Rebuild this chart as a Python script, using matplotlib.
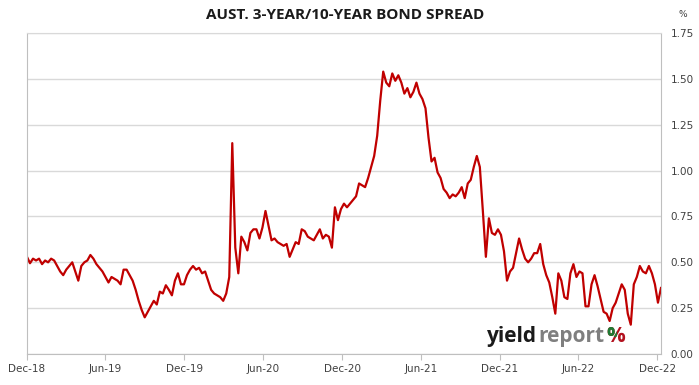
import matplotlib
matplotlib.use('Agg')
import matplotlib.pyplot as plt
import matplotlib.dates as mdates
from matplotlib.patches import Rectangle
import numpy as np
import pandas as pd

# weekly spread readings (%), first week of Dec 2018 to early Dec 2022
start_date = '2018-12-01'
spread = [
    0.53, 0.495, 0.52, 0.51, 0.52, 0.49, 0.51, 0.50, 0.52, 0.51,
    0.48, 0.45, 0.43, 0.46, 0.48, 0.50, 0.45, 0.40, 0.48, 0.50,
    0.51, 0.54, 0.52, 0.49, 0.47, 0.45, 0.42, 0.39, 0.42, 0.41,
    0.40, 0.38, 0.46, 0.46, 0.43, 0.40, 0.35, 0.29, 0.24, 0.20,
    0.23, 0.26, 0.29, 0.27, 0.34, 0.33, 0.375, 0.35, 0.32, 0.40,
    0.44, 0.38, 0.38, 0.43, 0.46, 0.48, 0.46, 0.47, 0.44, 0.45,
    0.40, 0.35, 0.33, 0.32, 0.31, 0.29, 0.33, 0.42, 1.15, 0.58,
    0.44, 0.64, 0.61, 0.565, 0.66, 0.68, 0.68, 0.63, 0.69, 0.78,
    0.70, 0.62, 0.63, 0.61, 0.60, 0.59, 0.60, 0.53, 0.57, 0.61,
    0.60, 0.68, 0.67, 0.64, 0.63, 0.62, 0.65, 0.68, 0.63, 0.65,
    0.64, 0.58, 0.80, 0.73, 0.79, 0.82, 0.80, 0.82, 0.84, 0.86,
    0.93, 0.92, 0.91, 0.96, 1.02, 1.08, 1.19, 1.38, 1.54, 1.48,
    1.46, 1.53, 1.49, 1.52, 1.48, 1.42, 1.45, 1.40, 1.43, 1.48,
    1.42, 1.39, 1.34, 1.18, 1.05, 1.07, 0.99, 0.96, 0.90, 0.88,
    0.85, 0.87, 0.86, 0.88, 0.91, 0.85, 0.93, 0.95, 1.02, 1.08,
    1.02, 0.78, 0.53, 0.74, 0.66, 0.65, 0.68, 0.65, 0.56, 0.40,
    0.45, 0.47, 0.55, 0.63, 0.57, 0.52, 0.50, 0.52, 0.55, 0.55,
    0.60, 0.49, 0.43, 0.39, 0.31, 0.22, 0.44, 0.40, 0.31, 0.30,
    0.44, 0.49, 0.42, 0.45, 0.44, 0.26, 0.26, 0.38, 0.43, 0.37,
    0.30, 0.23, 0.22, 0.18, 0.25, 0.28, 0.33, 0.38, 0.35, 0.22,
    0.16, 0.38, 0.42, 0.48, 0.45, 0.44, 0.48, 0.44, 0.38, 0.28,
    0.36,
]
dates = pd.date_range(start_date, periods=len(spread), freq='7D')

yticks = [0.00, 0.25, 0.50, 0.75, 1.00, 1.25, 1.50, 1.75]
xticks = pd.date_range('2018-12-01', '2022-12-01', freq='6MS')

fig = plt.figure(figsize=(6.99, 3.85), dpi=100)
ax = fig.add_axes([0.0386, 0.0805, 0.907, 0.8335])

ax.plot(dates, spread, color='#c00000', linewidth=1.6)

ax.set_xlim(pd.Timestamp('2018-12-01'), pd.Timestamp('2022-12-10'))
ax.set_ylim(0, 1.75)

ax.yaxis.tick_right()
ax.set_yticks(yticks)
ax.set_yticklabels([f'{v:.2f}' for v in yticks])
ax.set_xticks(xticks)
ax.xaxis.set_major_formatter(mdates.DateFormatter('%b-%y'))

ax.grid(axis='y', color='#d9d9d9', linewidth=1)
ax.set_axisbelow(True)
for side in ['left', 'right', 'bottom']:
    ax.spines[side].set_color('#bfbfbf')
ax.spines['top'].set_color('#d9d9d9')
ax.tick_params(axis='y', length=0, labelsize=7.5, labelcolor='#404040', pad=7)
ax.tick_params(axis='x', length=4, color='#bfbfbf', labelsize=7.5, labelcolor='#404040', pad=3)

fig.text(0.494, 0.962, 'AUST. 3-YEAR/10-YEAR BOND SPREAD', ha='center', va='center',
         fontsize=11, fontweight='bold', color='#1a1a1a', family='Open Sans')
fig.text(0.977, 0.962, '%', ha='center', va='center', fontsize=6.5, color='#404040')

# logo
logo_y = 0.125
fig.text(0.697, logo_y, 'yield', ha='left', va='center', fontsize=15, fontweight='bold',
         color='#1a1a1a', family='Open Sans')
fig.text(0.770, logo_y, 'report', ha='left', va='center', fontsize=15, fontweight='bold',
         color='#7f7f7f', family='Open Sans')
fig.text(0.868, logo_y, '%', ha='left', va='center', fontsize=15, fontweight='bold',
         color='#b3121f', family='Open Sans')
pct_green = fig.text(0.868, logo_y, '%', ha='left', va='center', fontsize=15,
                     fontweight='bold', color='#1e7b34', family='Open Sans')
clip = Rectangle((0.86, 0.125), 0.022, 0.05, transform=fig.transFigure)
pct_green.set_clip_path(clip)

fig.savefig('out.png', dpi=100)
